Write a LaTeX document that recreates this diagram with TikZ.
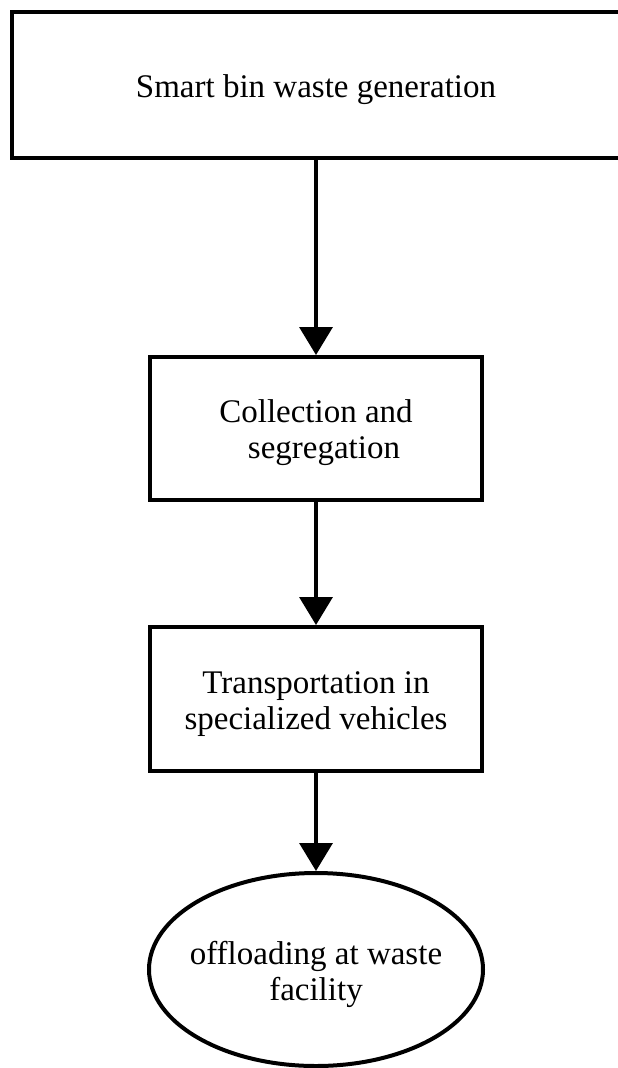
\documentclass[tikz,border=0pt]{standalone}
\usepackage{fontspec}
\setmainfont{Liberation Serif}
\usetikzlibrary{arrows.meta,shapes.geometric}
\newcommand\lowtext[1]{\raisebox{-5pt}[\height][\depth]{\begin{tabular}{@{}c@{}}#1\end{tabular}}}
\tikzset{
  stepbox/.style={draw=black, line width=4pt, fill=white, rectangle, inner sep=0pt,
    align=center, font=\fontsize{33}{36}\selectfont},
  endell/.style={draw=black, line width=4pt, fill=white, ellipse, inner sep=0pt},
  txt/.style={align=center, font=\fontsize{33}{36}\selectfont, inner sep=0pt},
  flow/.style={draw=black, line width=3.5pt, -{Triangle[width=33pt,length=28pt]}}
}
\begin{document}
\begin{tikzpicture}[x=1pt,y=-1pt]
\useasboundingbox (0,0) rectangle (618,1068);
\clip (0,0) rectangle (618,1068);
\fill[white] (0,0) rectangle (618,1068);
\node[stepbox, minimum width=608pt, minimum height=146pt] (b1) at (316,85) {\lowtext{Smart bin waste generation}};
\node[stepbox, minimum width=332pt, minimum height=143pt] (b2) at (316,428.5) {\lowtext{Collection and\\\hspace*{16pt}segregation}};
\node[stepbox, minimum width=332pt, minimum height=144pt] (b3) at (316,699) {\lowtext{Transportation in\\specialized vehicles}};
\node[endell, minimum width=334pt, minimum height=193pt] (e) at (316,969.5) {};
\node[txt] (et) at (316,974) {offloading at waste\\facility};
\draw[flow] (b1.south) -- (b2.north);
\draw[flow] (b2.south) -- (b3.north);
\draw[flow] (b3.south) -- (e.north);
\end{tikzpicture}
\end{document}
